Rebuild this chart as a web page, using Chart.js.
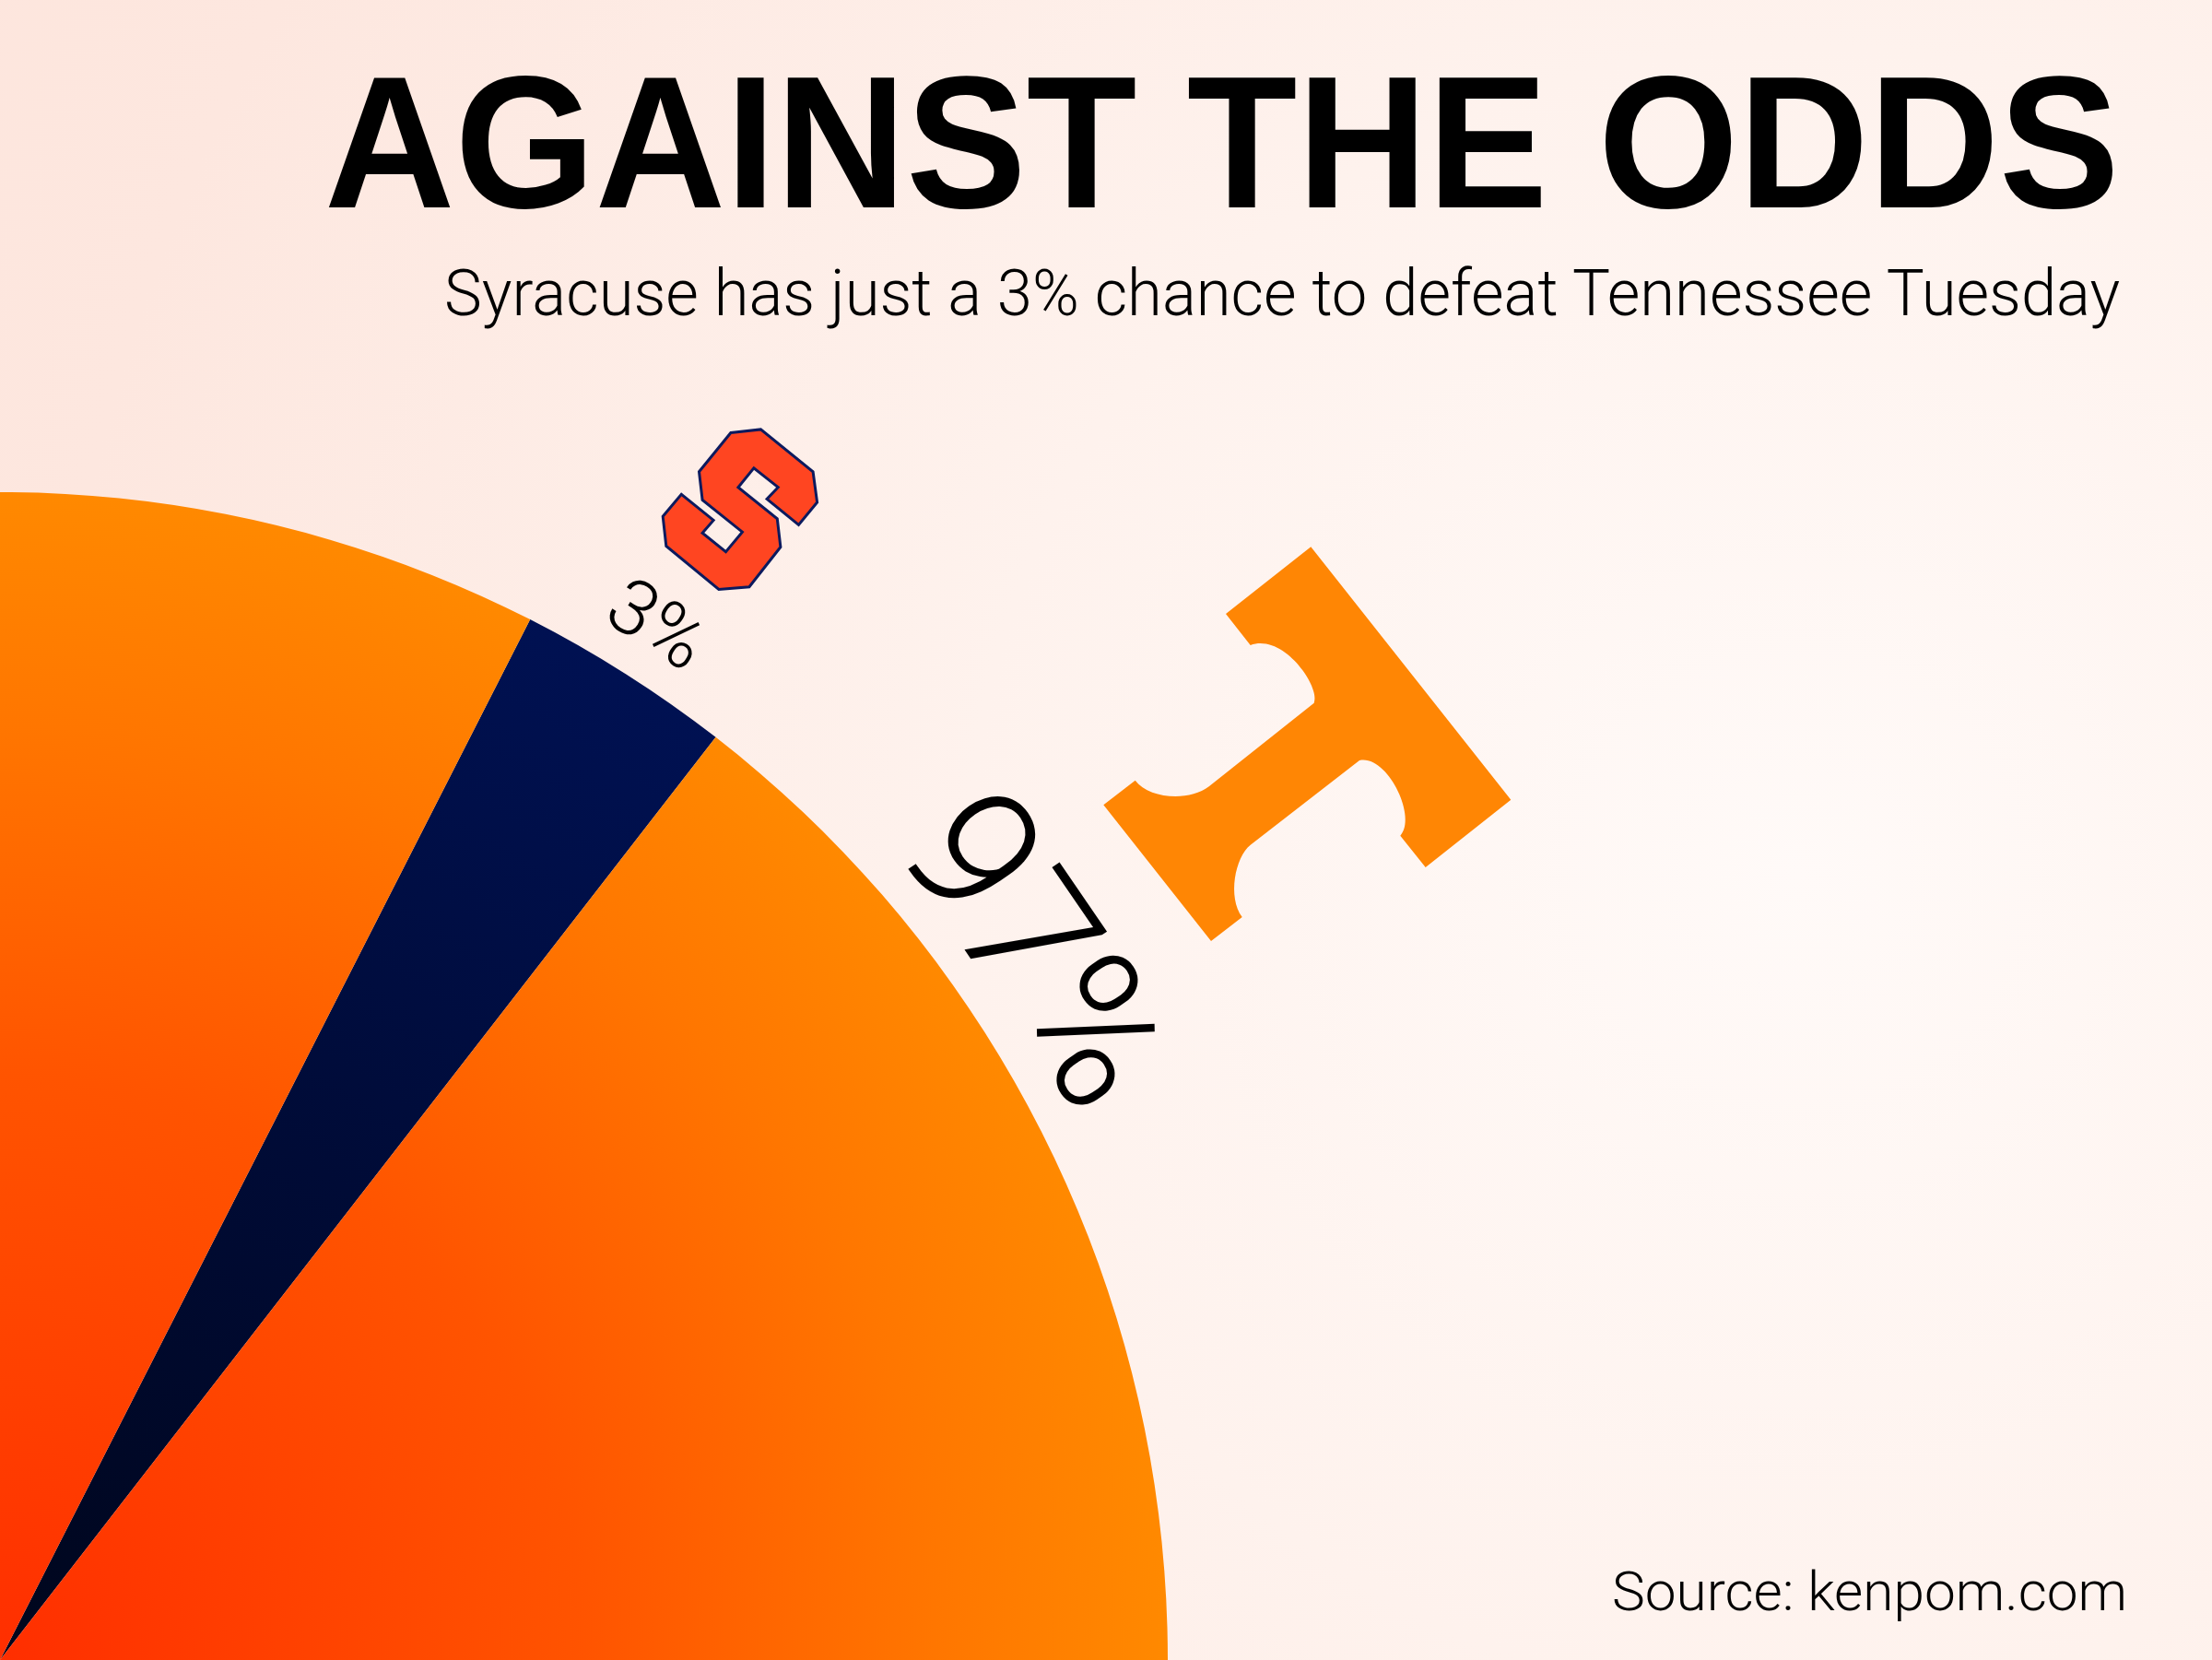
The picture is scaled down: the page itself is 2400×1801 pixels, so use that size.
<!DOCTYPE html>
<html>
<head>
<meta charset="utf-8">
<script src="https://cdn.jsdelivr.net/npm/chart.js@4.4.1/dist/chart.umd.min.js"></script>
<style>
  html, body { margin: 0; padding: 0; width: 2400px; height: 1801px; overflow: hidden; }
  body {
    position: relative;
    background: radial-gradient(circle at 1950px 950px, #fffaf8 0px, #fef2ed 900px, #fde7df 1900px, #fde4db 2600px);
  }
  #pie { position: absolute; left: 0; top: 0; }
  .txt { position: absolute; white-space: nowrap; color: #000; transform-origin: 100% 50%; margin: 0; }
  #title { font-family: "Liberation Sans", Arial, sans-serif; font-weight: 700; font-size: 204px; line-height: 204px; right: 100px; top: 52px; }
  #subtitle { font-family: Roboto, "Liberation Sans", sans-serif; font-weight: 300; font-size: 70px; line-height: 70px; right: 100px; top: 283px; }
  #source { font-family: Roboto, "Liberation Sans", sans-serif; font-weight: 300; font-size: 60px; line-height: 60px; right: 92px; top: 1697px; }
</style>
</head>
<body>
<canvas id="pie"></canvas>
<div id="title" class="txt"></div>
<div id="subtitle" class="txt"></div>
<div id="source" class="txt"></div>
<script>
// ---------- data ----------
const categories = ['Syracuse', 'Tennessee'];
const winChance = [3, 97];
const valueLabels = ['3%', '97%'];
const TITLE = 'AGAINST THE ODDS';
const SUBTITLE = 'Syracuse has just a 3% chance to defeat Tennessee Tuesday';
const SOURCE = 'Source: kenpom.com';

// ---------- layout / style ----------
const PAGE_W = 2400, PAGE_H = 1801;
const PIE_R = 1267;              // pie radius in px, centre sits at the page's bottom-left corner
const EXTRA_RIGHT = 1800;        // canvas reach right of the pie centre
const START_ROTATION = 27.0;     // degrees clockwise from 12 o'clock
const LABEL_FONT_SIZES = [84, 195];
const LABEL_GAPS = [36, 32];     // baseline distance outside the rim
const LABEL_ANGLE_OVERRIDE = [null, 55.6]; // degrees from 12 o'clock (null -> slice middle)
const SLICE_STOPS = [
  [[0, '#00061c'], [0.5, '#000b36'], [1, '#001152']],
  [[0, '#ff2e00'], [0.5, '#ff5400'], [0.8, '#ff7600'], [1, '#ff8900']]
];

// Logos (decoration), coordinates relative to the pie centre
const S_LOGO = [[792.9,-1331.5],[825.4,-1335.1],[882.1,-1289.2],[886.6,-1256.0],[866.5,-1231.5],[832.1,-1259.6],
  [844.2,-1272.3],[817.9,-1293.2],[800.9,-1272.3],[843.3,-1238.1],[846.9,-1207.5],[812.9,-1164.2],[779.9,-1161.6],
  [722.8,-1208.6],[719.2,-1240.7],[739.3,-1264.7],[774.1,-1236.6],[762.1,-1222.8],[787.5,-1202.4],[805.4,-1223.9],
  [762.1,-1258.6],[758.5,-1289.2]];
const T_LOGO = [
  ['M', 1422.3, 593.3], ['L', 1639.3, 867.7], ['L', 1546.7, 941.0], ['L', 1519.3, 906.7],
  ['C', 1538.3, 886.7, 1505.0, 818.3, 1475.0, 825.0],
  ['L', 1356.7, 916.7],
  ['C', 1340.0, 930.0, 1331.7, 973.3, 1347.7, 995.0],
  ['L', 1314.0, 1021.0], ['L', 1197.3, 873.3], ['L', 1231.7, 846.7],
  ['C', 1246.7, 866.7, 1290.0, 870.0, 1311.7, 853.3],
  ['L', 1425.7, 762.7],
  ['C', 1433.3, 746.7, 1393.3, 686.7, 1356.7, 700.0],
  ['L', 1330.0, 666.0], ['Z']
];

// ---------- page text ----------
document.getElementById('title').textContent = TITLE;
document.getElementById('subtitle').textContent = SUBTITLE;
document.getElementById('source').textContent = SOURCE;
function fitWidth(id, left, right) {
  const el = document.getElementById(id);
  const w = el.offsetWidth;
  el.style.transform = 'scaleX(' + ((right - left) / w) + ')';
}

// ---------- chart ----------
const canvas = document.getElementById('pie');
canvas.width = PIE_R + EXTRA_RIGHT;
canvas.height = PAGE_H + PIE_R;
canvas.style.left = (-PIE_R) + 'px';

function sliceGradient(context) {
  const chart = context.chart;
  const area = chart.chartArea;
  const i = context.dataIndex;
  const stops = SLICE_STOPS[i % SLICE_STOPS.length];
  if (!area) return stops[stops.length - 1][1];
  const cx = (area.left + area.right) / 2, cy = (area.top + area.bottom) / 2;
  const r = Math.min(area.right - area.left, area.bottom - area.top) / 2;
  const g = chart.ctx.createRadialGradient(cx, cy, 0, cx, cy, r);
  stops.forEach(s => g.addColorStop(s[0], s[1]));
  return g;
}

const decorPlugin = {
  id: 'decor',
  afterDatasetsDraw(chart) {
    const meta = chart.getDatasetMeta(0);
    const ctx = chart.ctx;
    const first = meta.data[0];
    const cx = first.x, cy = first.y;

    // logos
    ctx.save();
    ctx.translate(cx, cy);
    ctx.beginPath();
    S_LOGO.forEach((p, k) => k ? ctx.lineTo(p[0], p[1]) : ctx.moveTo(p[0], p[1]));
    ctx.closePath();
    ctx.fillStyle = '#ff4521';
    ctx.fill();
    ctx.lineWidth = 3;
    ctx.lineJoin = 'miter';
    ctx.strokeStyle = '#0c1a5e';
    ctx.stroke();

    ctx.beginPath();
    T_LOGO.forEach(c => {
      if (c[0] === 'M') ctx.moveTo(c[1], c[2] - PAGE_H);
      else if (c[0] === 'L') ctx.lineTo(c[1], c[2] - PAGE_H);
      else if (c[0] === 'C') ctx.bezierCurveTo(c[1], c[2] - PAGE_H, c[3], c[4] - PAGE_H, c[5], c[6] - PAGE_H);
      else ctx.closePath();
    });
    ctx.fillStyle = '#ff8604';
    ctx.fill();
    ctx.restore();

    // value labels along the rim
    meta.data.forEach((arc, i) => {
      const { startAngle, endAngle, outerRadius } = arc.getProps(['startAngle', 'endAngle', 'outerRadius'], true);
      let a = (startAngle + endAngle) / 2;
      if (LABEL_ANGLE_OVERRIDE[i] !== null) a = (LABEL_ANGLE_OVERRIDE[i] - 90) * Math.PI / 180;
      const rb = outerRadius + LABEL_GAPS[i];
      ctx.save();
      ctx.translate(cx + rb * Math.cos(a), cy + rb * Math.sin(a));
      ctx.rotate(a + Math.PI / 2);
      ctx.font = '300 ' + LABEL_FONT_SIZES[i] + 'px Roboto, Lato, sans-serif';
      ctx.fillStyle = '#000';
      ctx.textAlign = 'center';
      ctx.textBaseline = 'alphabetic';
      ctx.fillText(valueLabels[i], 0, 0);
      ctx.restore();
    });
  }
};

new Chart(canvas, {
  type: 'pie',
  data: {
    labels: categories,
    datasets: [{
      data: winChance,
      backgroundColor: sliceGradient,
      borderWidth: 0
    }]
  },
  options: {
    responsive: false,
    animation: false,
    devicePixelRatio: 1,
    rotation: START_ROTATION,
    events: [],
    layout: { padding: { left: 0, top: PAGE_H - PIE_R, right: EXTRA_RIGHT - PIE_R, bottom: 0 } },
    plugins: { legend: { display: false }, tooltip: { enabled: false }, title: { display: false } }
  },
  plugins: [decorPlugin]
});

fitWidth('title', 352, 2300);
fitWidth('subtitle', 482, 2300);
fitWidth('source', 1749, 2308);
</script>
</body>
</html>
